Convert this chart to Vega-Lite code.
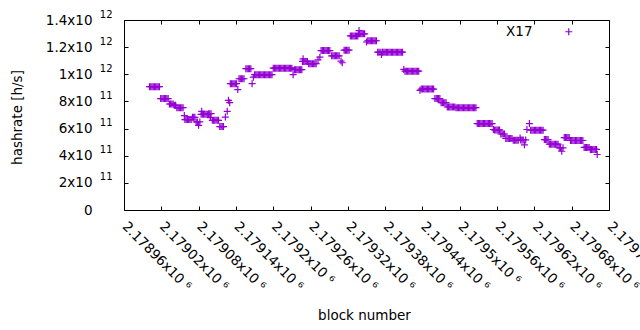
{
 "$schema": "https://vega.github.io/schema/vega-lite/v6.json",
 "width": 485, "height": 190,
 "autosize": {"type": "none"},
 "padding": {"left": 124, "top": 20, "right": 31, "bottom": 120},
 "background": "white",
 "config": {
  "font": "DejaVu Sans",
  "view": {"stroke": "black", "strokeWidth": 1},
  "axis": {"grid": false, "domain": false, "labelFont": "DejaVu Sans", "titleFont": "DejaVu Sans", "labelFontSize": 13.5, "titleFontSize": 13.5, "titleFontWeight": "normal", "labelColor": "black", "titleColor": "black", "tickColor": "black", "tickWidth": 1}
 },
 "data": {"values": [
  {"b":2179001,"h":9.09e11},{"b":2179003,"h":9.09e11},{"b":2179005,"h":9.09e11},{"b":2179007,"h":9.09e11},{"b":2179009,"h":9.09e11},{"b":2179011,"h":9.09e11},{"b":2179013,"h":9.09e11},{"b":2179015,"h":9.09e11},{"b":2179017,"h":9.09e11},
  {"b":2179019,"h":8.21e11},{"b":2179021,"h":8.21e11},{"b":2179023,"h":8.21e11},{"b":2179025,"h":8.21e11},{"b":2179027,"h":8.21e11},{"b":2179029,"h":8.21e11},{"b":2179031,"h":8.21e11},
  {"b":2179033,"h":7.81e11},{"b":2179035,"h":7.81e11},{"b":2179037,"h":7.81e11},{"b":2179039,"h":7.81e11},{"b":2179041,"h":7.71e11},{"b":2179043,"h":7.71e11},
  {"b":2179045,"h":7.54e11},{"b":2179047,"h":7.54e11},{"b":2179049,"h":7.54e11},{"b":2179051,"h":7.54e11},{"b":2179053,"h":7.54e11},{"b":2179055,"h":7.54e11},
  {"b":2179057,"h":6.96e11},
  {"b":2179058,"h":6.66e11},{"b":2179060,"h":6.66e11},{"b":2179062,"h":6.66e11},{"b":2179064,"h":6.66e11},{"b":2179066,"h":6.66e11},{"b":2179068,"h":6.66e11},
  {"b":2179070,"h":6.83e11},{"b":2179072,"h":6.83e11},{"b":2179074,"h":6.83e11},
  {"b":2179076,"h":6.49e11},{"b":2179078,"h":6.49e11},{"b":2179082,"h":6.49e11},{"b":2179080,"h":6.24e11},
  {"b":2179085,"h":7.27e11},
  {"b":2179084,"h":7.05e11},{"b":2179086,"h":7.05e11},{"b":2179088,"h":7.05e11},{"b":2179090,"h":7.05e11},{"b":2179092,"h":7.05e11},{"b":2179094,"h":7.05e11},
  {"b":2179096,"h":7.10e11},{"b":2179098,"h":7.10e11},{"b":2179100,"h":7.10e11},{"b":2179099,"h":6.81e11},
  {"b":2179102,"h":6.61e11},{"b":2179104,"h":6.61e11},{"b":2179106,"h":6.61e11},{"b":2179108,"h":6.61e11},{"b":2179110,"h":6.61e11},{"b":2179112,"h":6.61e11},
  {"b":2179114,"h":6.15e11},{"b":2179116,"h":6.15e11},{"b":2179118,"h":6.15e11},{"b":2179120,"h":6.15e11},
  {"b":2179123,"h":6.85e11},{"b":2179126,"h":7.27e11},{"b":2179128,"h":8.08e11},{"b":2179130,"h":7.91e11},
  {"b":2179131,"h":9.31e11},{"b":2179133,"h":9.31e11},{"b":2179135,"h":9.31e11},{"b":2179137,"h":9.31e11},{"b":2179139,"h":9.31e11},{"b":2179141,"h":9.31e11},
  {"b":2179143,"h":8.87e11},
  {"b":2179145,"h":9.67e11},{"b":2179147,"h":9.67e11},{"b":2179149,"h":9.67e11},{"b":2179151,"h":9.67e11},{"b":2179153,"h":9.67e11},
  {"b":2179156,"h":1.041e12},{"b":2179158,"h":1.041e12},{"b":2179160,"h":1.041e12},{"b":2179162,"h":1.041e12},{"b":2179164,"h":1.041e12},
  {"b":2179166,"h":9.31e11},{"b":2179168,"h":9.79e11},
  {"b":2179170,"h":9.97e11},{"b":2179172,"h":9.97e11},{"b":2179174,"h":9.97e11},{"b":2179176,"h":9.97e11},{"b":2179178,"h":9.97e11},{"b":2179180,"h":9.97e11},{"b":2179182,"h":9.97e11},{"b":2179184,"h":9.97e11},{"b":2179186,"h":9.97e11},{"b":2179188,"h":9.97e11},{"b":2179190,"h":9.97e11},{"b":2179192,"h":9.97e11},{"b":2179194,"h":9.97e11},{"b":2179196,"h":9.97e11},{"b":2179198,"h":9.97e11},
  {"b":2179200,"h":1.045e12},{"b":2179202,"h":1.045e12},{"b":2179204,"h":1.045e12},{"b":2179206,"h":1.045e12},{"b":2179208,"h":1.045e12},{"b":2179210,"h":1.045e12},{"b":2179212,"h":1.045e12},{"b":2179214,"h":1.045e12},{"b":2179216,"h":1.045e12},{"b":2179218,"h":1.045e12},{"b":2179220,"h":1.045e12},{"b":2179222,"h":1.045e12},{"b":2179224,"h":1.045e12},{"b":2179226,"h":1.045e12},{"b":2179228,"h":1.045e12},{"b":2179230,"h":1.045e12},
  {"b":2179232,"h":9.97e11},
  {"b":2179234,"h":1.034e12},{"b":2179236,"h":1.034e12},{"b":2179238,"h":1.034e12},{"b":2179240,"h":1.034e12},{"b":2179242,"h":1.034e12},{"b":2179244,"h":1.034e12},{"b":2179246,"h":1.034e12},
  {"b":2179248,"h":1.114e12},
  {"b":2179247,"h":1.095e12},{"b":2179249,"h":1.095e12},{"b":2179251,"h":1.095e12},{"b":2179253,"h":1.095e12},{"b":2179255,"h":1.095e12},
  {"b":2179257,"h":1.078e12},{"b":2179259,"h":1.078e12},{"b":2179261,"h":1.078e12},{"b":2179263,"h":1.078e12},{"b":2179265,"h":1.078e12},{"b":2179267,"h":1.078e12},{"b":2179269,"h":1.078e12},
  {"b":2179272,"h":1.107e12},{"b":2179275,"h":1.126e12},
  {"b":2179277,"h":1.175e12},{"b":2179279,"h":1.175e12},{"b":2179281,"h":1.175e12},{"b":2179283,"h":1.175e12},{"b":2179285,"h":1.175e12},{"b":2179287,"h":1.175e12},{"b":2179289,"h":1.175e12},{"b":2179291,"h":1.175e12},
  {"b":2179294,"h":1.136e12},{"b":2179296,"h":1.136e12},{"b":2179298,"h":1.136e12},{"b":2179300,"h":1.136e12},{"b":2179302,"h":1.136e12},{"b":2179304,"h":1.136e12},{"b":2179306,"h":1.136e12},
  {"b":2179309,"h":1.097e12},{"b":2179311,"h":1.085e12},
  {"b":2179314,"h":1.178e12},{"b":2179316,"h":1.178e12},{"b":2179318,"h":1.178e12},{"b":2179320,"h":1.178e12},{"b":2179322,"h":1.178e12},
  {"b":2179324,"h":1.283e12},{"b":2179326,"h":1.283e12},{"b":2179328,"h":1.283e12},{"b":2179330,"h":1.283e12},{"b":2179332,"h":1.283e12},{"b":2179334,"h":1.283e12},{"b":2179336,"h":1.283e12},
  {"b":2179338,"h":1.322e12},
  {"b":2179337,"h":1.298e12},{"b":2179339,"h":1.298e12},{"b":2179341,"h":1.298e12},{"b":2179343,"h":1.298e12},{"b":2179345,"h":1.298e12},{"b":2179347,"h":1.298e12},
  {"b":2179350,"h":1.238e12},
  {"b":2179352,"h":1.247e12},{"b":2179354,"h":1.247e12},{"b":2179356,"h":1.247e12},{"b":2179358,"h":1.247e12},{"b":2179360,"h":1.247e12},{"b":2179362,"h":1.247e12},{"b":2179364,"h":1.247e12},{"b":2179366,"h":1.247e12},
  {"b":2179368,"h":1.163e12},{"b":2179370,"h":1.163e12},{"b":2179372,"h":1.163e12},{"b":2179374,"h":1.146e12},{"b":2179376,"h":1.163e12},{"b":2179378,"h":1.163e12},{"b":2179380,"h":1.163e12},{"b":2179382,"h":1.163e12},{"b":2179384,"h":1.163e12},{"b":2179386,"h":1.163e12},{"b":2179388,"h":1.163e12},{"b":2179390,"h":1.163e12},{"b":2179392,"h":1.163e12},{"b":2179394,"h":1.163e12},{"b":2179396,"h":1.163e12},{"b":2179398,"h":1.163e12},{"b":2179400,"h":1.163e12},{"b":2179402,"h":1.163e12},{"b":2179404,"h":1.163e12},{"b":2179406,"h":1.163e12},{"b":2179408,"h":1.163e12},{"b":2179375,"h":1.163e12},
  {"b":2179410,"h":1.036e12},
  {"b":2179412,"h":1.023e12},{"b":2179414,"h":1.023e12},{"b":2179416,"h":1.023e12},{"b":2179418,"h":1.023e12},{"b":2179420,"h":1.023e12},{"b":2179422,"h":1.023e12},{"b":2179424,"h":1.023e12},{"b":2179426,"h":1.023e12},{"b":2179428,"h":1.023e12},{"b":2179430,"h":1.023e12},{"b":2179432,"h":1.023e12},{"b":2179434,"h":1.023e12},
  {"b":2179436,"h":8.82e11},
  {"b":2179438,"h":8.91e11},{"b":2179440,"h":8.91e11},{"b":2179442,"h":8.91e11},{"b":2179444,"h":8.91e11},{"b":2179446,"h":8.91e11},{"b":2179448,"h":8.91e11},{"b":2179450,"h":8.91e11},{"b":2179452,"h":8.91e11},{"b":2179454,"h":8.91e11},{"b":2179456,"h":8.91e11},{"b":2179458,"h":8.91e11},
  {"b":2179460,"h":8.21e11},{"b":2179462,"h":8.21e11},{"b":2179464,"h":8.21e11},{"b":2179466,"h":8.21e11},{"b":2179468,"h":8.21e11},
  {"b":2179470,"h":7.91e11},{"b":2179472,"h":7.91e11},{"b":2179474,"h":7.91e11},{"b":2179476,"h":7.91e11},{"b":2179478,"h":7.91e11},
  {"b":2179480,"h":7.59e11},{"b":2179482,"h":7.59e11},{"b":2179484,"h":7.59e11},{"b":2179486,"h":7.59e11},{"b":2179488,"h":7.59e11},{"b":2179490,"h":7.59e11},{"b":2179492,"h":7.59e11},
  {"b":2179494,"h":7.54e11},{"b":2179496,"h":7.54e11},{"b":2179498,"h":7.54e11},{"b":2179500,"h":7.54e11},{"b":2179502,"h":7.54e11},{"b":2179504,"h":7.54e11},{"b":2179506,"h":7.54e11},{"b":2179508,"h":7.54e11},{"b":2179510,"h":7.54e11},{"b":2179512,"h":7.54e11},{"b":2179514,"h":7.54e11},{"b":2179516,"h":7.54e11},{"b":2179518,"h":7.54e11},{"b":2179520,"h":7.54e11},{"b":2179522,"h":7.54e11},{"b":2179524,"h":7.54e11},{"b":2179526,"h":7.54e11},
  {"b":2179528,"h":6.37e11},{"b":2179530,"h":6.37e11},{"b":2179532,"h":6.37e11},{"b":2179534,"h":6.37e11},{"b":2179536,"h":6.37e11},{"b":2179538,"h":6.37e11},{"b":2179540,"h":6.37e11},{"b":2179542,"h":6.37e11},{"b":2179544,"h":6.37e11},{"b":2179546,"h":6.37e11},{"b":2179548,"h":6.37e11},{"b":2179550,"h":6.37e11},{"b":2179552,"h":6.37e11},
  {"b":2179554,"h":5.93e11},
  {"b":2179556,"h":5.90e11},{"b":2179558,"h":5.90e11},{"b":2179560,"h":5.90e11},{"b":2179562,"h":5.90e11},{"b":2179564,"h":5.90e11},
  {"b":2179566,"h":5.60e11},{"b":2179568,"h":5.60e11},{"b":2179570,"h":5.60e11},{"b":2179572,"h":5.60e11},
  {"b":2179574,"h":5.27e11},{"b":2179576,"h":5.27e11},{"b":2179578,"h":5.27e11},{"b":2179580,"h":5.27e11},{"b":2179582,"h":5.27e11},{"b":2179584,"h":5.27e11},
  {"b":2179586,"h":5.14e11},{"b":2179588,"h":5.14e11},{"b":2179590,"h":5.14e11},{"b":2179592,"h":5.14e11},{"b":2179594,"h":5.14e11},
  {"b":2179597,"h":5.31e11},
  {"b":2179598,"h":5.16e11},{"b":2179600,"h":5.16e11},{"b":2179602,"h":5.16e11},{"b":2179606,"h":5.16e11},{"b":2179604,"h":4.80e11},
  {"b":2179608,"h":5.93e11},{"b":2179612,"h":6.37e11},
  {"b":2179614,"h":5.88e11},{"b":2179616,"h":5.88e11},{"b":2179618,"h":5.88e11},{"b":2179620,"h":5.88e11},{"b":2179622,"h":5.88e11},{"b":2179624,"h":5.88e11},{"b":2179626,"h":5.88e11},{"b":2179628,"h":5.88e11},{"b":2179630,"h":5.88e11},{"b":2179632,"h":5.88e11},{"b":2179634,"h":5.88e11},
  {"b":2179636,"h":5.19e11},{"b":2179638,"h":5.19e11},{"b":2179640,"h":5.19e11},{"b":2179642,"h":5.19e11},
  {"b":2179644,"h":4.85e11},{"b":2179646,"h":4.85e11},{"b":2179648,"h":4.85e11},{"b":2179650,"h":4.85e11},{"b":2179652,"h":4.85e11},{"b":2179654,"h":4.85e11},{"b":2179656,"h":4.85e11},{"b":2179658,"h":4.85e11},
  {"b":2179660,"h":4.58e11},{"b":2179662,"h":4.58e11},{"b":2179666,"h":4.58e11},{"b":2179664,"h":4.33e11},
  {"b":2179668,"h":5.34e11},{"b":2179670,"h":5.34e11},{"b":2179672,"h":5.34e11},{"b":2179674,"h":5.34e11},{"b":2179676,"h":5.34e11},
  {"b":2179678,"h":5.12e11},{"b":2179680,"h":5.12e11},{"b":2179682,"h":5.12e11},{"b":2179684,"h":5.12e11},{"b":2179686,"h":5.12e11},{"b":2179688,"h":5.12e11},{"b":2179690,"h":5.12e11},{"b":2179692,"h":5.12e11},{"b":2179694,"h":5.12e11},{"b":2179696,"h":5.12e11},{"b":2179698,"h":5.12e11},
  {"b":2179700,"h":4.61e11},{"b":2179702,"h":4.61e11},{"b":2179704,"h":4.61e11},{"b":2179706,"h":4.61e11},{"b":2179708,"h":4.61e11},
  {"b":2179710,"h":4.46e11},{"b":2179712,"h":4.46e11},{"b":2179714,"h":4.46e11},{"b":2179716,"h":4.46e11},{"b":2179718,"h":4.46e11},{"b":2179720,"h":4.46e11},
  {"b":2179721,"h":4.09e11}
 ]},
 "layer": [
  {
   "mark": {"type": "point", "shape": "M-1,0H1M0,-1V1", "size": 49, "strokeWidth": 1.2, "filled": false, "opacity": 1},
   "encoding": {
    "x": {"field": "b", "type": "quantitative",
     "scale": {"domain": [2178960, 2179740], "nice": false, "zero": false},
     "axis": {"orient": "bottom", "ticks": false, "values": [2178960,2179020,2179080,2179140,2179200,2179260,2179320,2179380,2179440,2179500,2179560,2179620,2179680,2179740],
      "labelAngle": 45, "labelAlign": "left", "labelBaseline": "middle", "labelPadding": 14, "labelOverlap": false, "labelFlush": false, "labelBound": false,
      "labelExpr": "format(datum.value/1e6,'.5~f') + 'x10 ⁶'",
      "title": "block number", "titleX": 240, "titleY": 105, "titleBaseline": "middle", "titleAlign": "center"}},
    "y": {"field": "h", "type": "quantitative",
     "scale": {"domain": [0, 1.4e12], "nice": false},
     "axis": {"orient": "left", "ticks": false, "values": [0,2e11,4e11,6e11,8e11,1e12,1.2e12,1.4e12],
      "labelPadding": 32, "labelOverlap": false, "labelFlush": false,
      "labelExpr": "datum.value == 0 ? '0' : format(datum.value / pow(10, floor(log(datum.value)/LN10 + 1e-9)), '.1~f') + 'x10'",
      "title": "hashrate [h/s]", "titleX": -107, "titleY": 97, "titleAngle": -90, "titleBaseline": "middle", "titleAlign": "center"}},
    "color": {"datum": "X17", "type": "nominal", "scale": {"range": ["#9400d3"]},
     "legend": {"orient": "none", "legendX": 438, "legendY": 5, "title": null, "padding": 0,
      "symbolType": "M-1,0H1M0,-1V1", "symbolSize": 49, "symbolStrokeWidth": 1.2, "symbolFillColor": "transparent", "symbolStrokeColor": "#9400d3",
      "labelAlign": "right", "labelOffset": -43, "labelFontSize": 13.5, "labelFont": "DejaVu Sans", "labelColor": "black"}}
   }
  },
  {
   "mark": {"type": "point", "opacity": 0},
   "encoding": {
    "x": {"field": "b", "type": "quantitative", "axis": {"orient": "top", "offset": -4, "tickSize": 4, "labels": false, "title": null, "values": [2178960,2179020,2179080,2179140,2179200,2179260,2179320,2179380,2179440,2179500,2179560,2179620,2179680,2179740]}},
    "y": {"field": "h", "type": "quantitative", "axis": {"orient": "right", "offset": -4, "tickSize": 4, "labels": false, "title": null, "values": [0,2e11,4e11,6e11,8e11,1e12,1.2e12,1.4e12]}}
   }
  },
  {
   "mark": {"type": "point", "opacity": 0},
   "encoding": {
    "x": {"field": "b", "type": "quantitative", "axis": {"orient": "bottom", "offset": -4, "tickSize": 4, "labels": false, "title": null, "values": [2178960,2179020,2179080,2179140,2179200,2179260,2179320,2179380,2179440,2179500,2179560,2179620,2179680,2179740]}},
    "y": {"field": "h", "type": "quantitative", "axis": {"orient": "left", "offset": -4, "tickSize": 4, "labels": false, "title": null, "values": [0,2e11,4e11,6e11,8e11,1e12,1.2e12,1.4e12]}}
   }
  },
  {
   "mark": {"type": "point", "opacity": 0},
   "encoding": {
    "y": {"field": "h", "type": "quantitative", "axis": {"orient": "left", "ticks": false, "title": null, "values": [0,2e11,4e11,6e11,8e11,1e12,1.2e12,1.4e12],
     "labelPadding": 12, "labelFontSize": 10, "labelOffset": -6, "labelOverlap": false, "labelFlush": false,
     "labelExpr": "datum.value == 0 ? '' : (datum.value > 9.9e11 ? '12' : '11')"}}
   }
  }
 ],
 "resolve": {"axis": {"x": "independent", "y": "independent"}}
}
